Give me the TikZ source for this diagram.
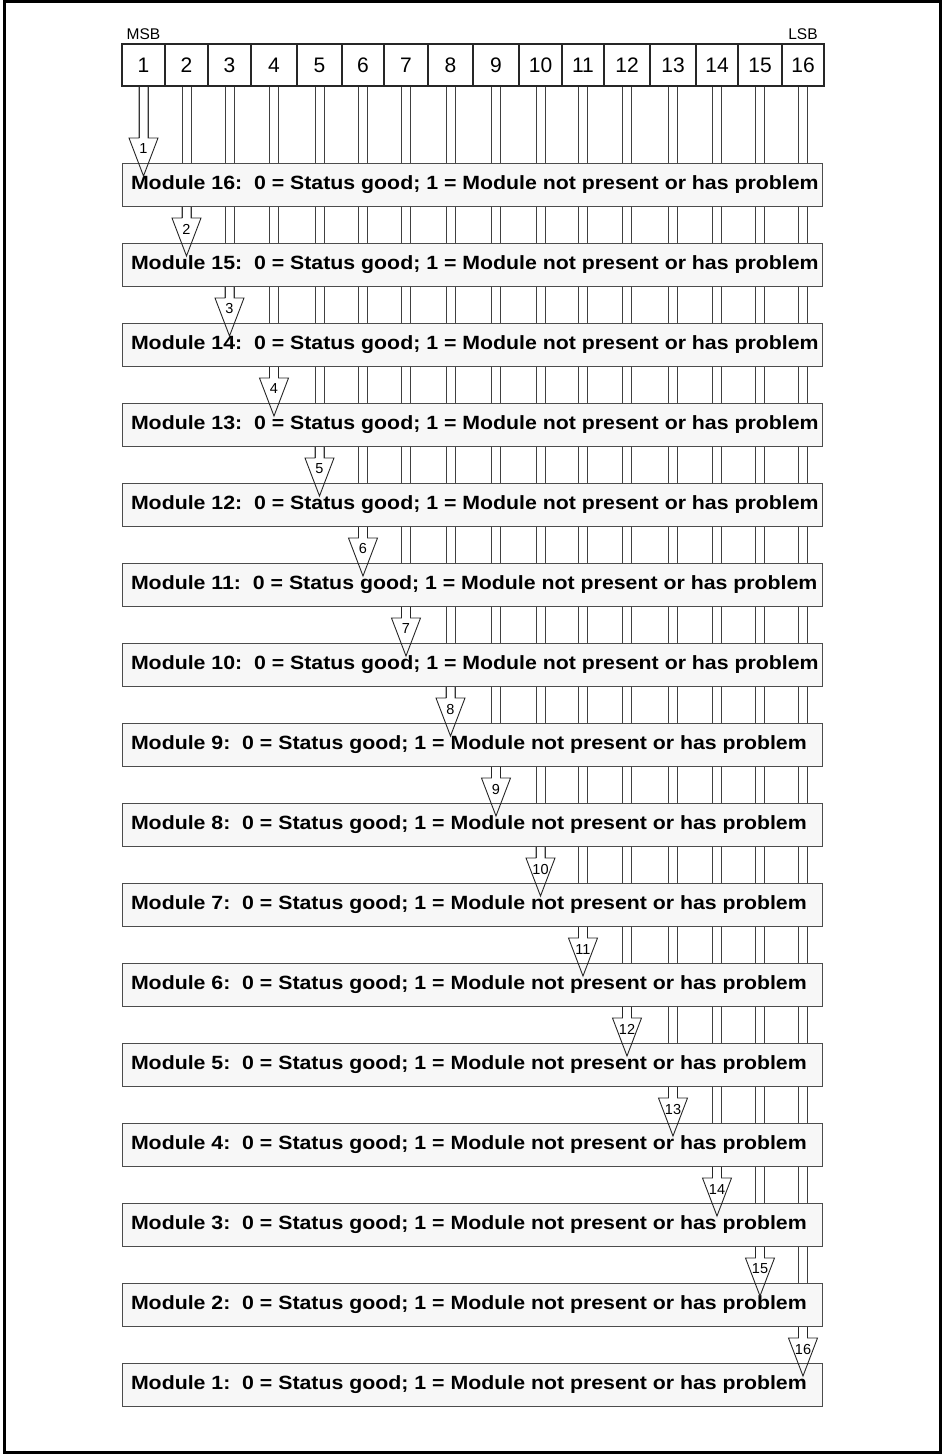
\documentclass[tikz,border=0pt]{standalone}
\usepackage{fontspec}
\setmainfont{Liberation Sans}
\usepackage{graphicx}
\usetikzlibrary{calc}
\pgfdeclarelayer{bg}
\pgfsetlayers{bg,main}
\newcommand\modtext[1]{\scalebox{1}[0.9]{\makebox[683pt][l]{\frenchspacing\fontsize{21.3}{24}\selectfont\bfseries Module #1:\ \ 0 = Status good; 1 = Module not present or has problem}}}
\begin{document}
\begin{tikzpicture}[x=1pt,y=-1pt,
  bitbox/.style={draw=black!85,line width=1.2pt,inner sep=0pt,minimum height=42pt,font=\fontsize{21}{24}\selectfont},
  modbox/.style={draw=black!70,fill=black!3,line width=1pt,inner xsep=8.5pt,inner ysep=0pt,minimum height=43pt,minimum width=700pt,anchor=north west},
  dline/.style={draw=black!75,line width=0.9pt},
  arrline/.style={draw=black!85,line width=0.9pt,line join=miter},
  numlbl/.style={font=\fontsize{14.5}{16}\selectfont,inner sep=0pt},
  sidelbl/.style={font=\fontsize{15.5}{17}\selectfont,inner sep=0pt,anchor=base}]
\useasboundingbox (0,0) rectangle (942,1454);
\draw[line width=3pt] (4,1.5) rectangle (940,1452.5);
% bit boxes
\foreach \l/\r [count=\j] in {122/165,165/208,208/251,251/297,297/342,342/384,384/428,428/473,473/519,519/562,562/604,604/650,650/696,696/738,738/782,782/824} {
  \pgfmathsetmacro\w{\r-\l}
  \pgfmathsetmacro\c{(\l+\r)/2}
  \node[bitbox,minimum width=\w pt] (b\j) at (\c,65) {\j};
}
\node[sidelbl] (msb) at ([yshift=4pt]b1.north) {MSB};
\node[sidelbl] (lsb) at ([yshift=4pt]b16.north) {LSB};
% module boxes
\foreach \k in {1,...,16} {
  \pgfmathsetmacro\t{163+80*(16-\k)}
  \node[modbox] (m\k) at (122,\t) {\modtext{\k}};
}
% double lines behind the boxes
\begin{pgfonlayer}{bg}
\foreach \j in {1,...,16}{
  \pgfmathtruncatemacro\k{17-\j}
  \draw[dline] ([xshift=-4.5pt]b\j.south) -- ([xshift=-4.5pt,yshift=25pt]b\j.south |- m\k.north);
  \draw[dline] ([xshift=4.5pt]b\j.south) -- ([xshift=4.5pt,yshift=25pt]b\j.south |- m\k.north);
}
\end{pgfonlayer}
% arrows
\foreach \j in {1,...,16}{
  \pgfmathtruncatemacro\k{17-\j}
  \pgfmathtruncatemacro\p{\k+1}
  \ifnum\j=1
    \coordinate (hs\j) at (b1.south);
  \else
    \coordinate (hs\j) at (b\j.south |- m\p.south);
  \fi
  \coordinate (ht\j) at ([yshift=25pt]b\j.south |- m\k.north);
  \coordinate (tip\j) at ([yshift=-13pt]b\j.south |- m\k.north);
  \draw[arrline] ([xshift=-4.5pt]hs\j) -- ([xshift=-4.5pt]ht\j) -- ([xshift=-14.5pt]ht\j) -- (tip\j)
     -- ([xshift=14.5pt]ht\j) -- ([xshift=4.5pt]ht\j) -- ([xshift=4.5pt]hs\j);
  \node[numlbl] (n\j) at ([yshift=-11pt]ht\j) {\j};
}
\end{tikzpicture}
\end{document}
